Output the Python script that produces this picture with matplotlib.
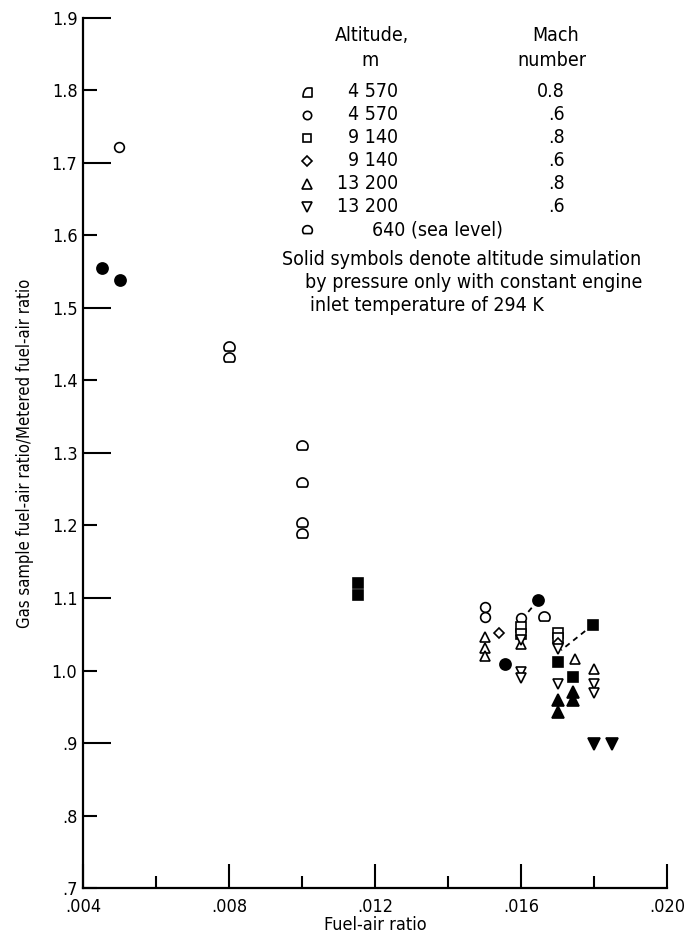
import numpy as np
import matplotlib
matplotlib.use("Agg")
import matplotlib.pyplot as plt
from matplotlib.path import Path
from matplotlib.ticker import FixedLocator, FixedFormatter

plt.rcParams['font.family'] = ['DejaVu Sans']
plt.rcParams['font.stretch'] = 'condensed'

# ---- data: fuel-air ratio (x) vs gas-sample / metered ratio (y) ----
circ_open_x = [0.00499, 0.0150, 0.0150, 0.0160]
circ_open_y = [1.722, 1.087, 1.074, 1.072]
circ_fill_x = [0.00452, 0.00501, 0.01556, 0.01647]
circ_fill_y = [1.555, 1.539, 1.009, 1.097]

sea_open_x = [0.0080, 0.0080, 0.0100, 0.0100, 0.0100, 0.0100, 0.01663]
sea_open_y = [1.446, 1.431, 1.310, 1.259, 1.203, 1.188, 1.074]

sq_open_x = [0.0160, 0.0160, 0.0170, 0.0170]
sq_open_y = [1.060, 1.050, 1.052, 1.045]
sq_fill_x = [0.01153, 0.01153, 0.0170, 0.01743, 0.01797]
sq_fill_y = [1.121, 1.104, 1.012, 0.991, 1.063]

dia_open_x = [0.0154, 0.0170]
dia_open_y = [1.052, 1.038]

tup_open_x = [0.0150, 0.0150, 0.0150, 0.0160, 0.01748, 0.0180]
tup_open_y = [1.046, 1.031, 1.020, 1.036, 1.016, 1.002]
tup_fill_x = [0.0170, 0.0170, 0.01743, 0.01743]
tup_fill_y = [0.959, 0.943, 0.970, 0.959]

tdn_open_x = [0.0160, 0.0160, 0.0160, 0.0170, 0.0170, 0.0180, 0.0180]
tdn_open_y = [1.042, 0.998, 0.990, 1.030, 0.981, 0.981, 0.969]
tdn_fill_x = [0.0180, 0.0185]
tdn_fill_y = [0.899, 0.899]

# dashed links between solid and matching open points
link1_x = [0.01647, 0.0161]
link1_y = [1.097, 1.075]
link2_x = [0.01797, 0.0171]
link2_y = [1.063, 1.028]

# legend table
alt_labels = ["4 570", "4 570", "9 140", "9 140", "13 200", "13 200", "640 (sea level)"]
mach_labels = ["0.8", ".6", ".8", ".6", ".8", ".6", ""]
note_lines = ["Solid symbols denote altitude simulation",
              "by pressure only with constant engine",
              "inlet temperature of 294 K"]

y_major = [0.9, 1.1, 1.3, 1.5, 1.7, 1.9]
y_major_labels = [".9", "1.1", "1.3", "1.5", "1.7", "1.9"]
y_minor = [0.7, 0.8, 1.0, 1.2, 1.4, 1.6, 1.8]
y_minor_labels = [".7", ".8", "1.0", "1.2", "1.4", "1.6", "1.8"]
x_major = [0.004, 0.008, 0.012, 0.016, 0.020]
x_major_labels = [".004", ".008", ".012", ".016", ".020"]
x_minor = [0.006, 0.010, 0.014, 0.018]

# ---- custom marker shapes ----
def quarter_marker():
    # flat bottom, upright right side, rounded sloping left side
    pts = [(-0.5, -0.5), (0.5, -0.5), (0.5, 0.5), (0.05, 0.5)]
    for a in np.linspace(0.15, 1.0, 8) * (np.pi / 2):
        pts.append((0.05 - 0.55 * np.sin(a), -0.5 + 1.0 * np.cos(a)))
    pts.append(pts[0])
    return Path(pts, closed=True)

def sea_marker():
    # round top with a flat base
    pts = [(0.5 * np.cos(a), 0.5 * np.sin(a)) for a in np.linspace(-0.22 * np.pi, 1.22 * np.pi, 32)]
    pts.append(pts[0])
    return Path(pts, closed=True)

QUARTER = quarter_marker()
SEA = sea_marker()

fs_tick = 13
fs_key = 14

fig = plt.figure(figsize=(6.88, 9.40), dpi=100)
ax = fig.add_axes([0.1206, 0.0553, 0.8489, 0.9256])
ax.set_xlim(0.004, 0.020)
ax.set_ylim(0.7, 1.9)

for s in ("top", "right"):
    ax.spines[s].set_visible(False)
for s in ("left", "bottom"):
    ax.spines[s].set_linewidth(1.6)

mew = 1.2
open_kw = dict(ls="none", mfc="white", mec="black", mew=mew, zorder=3)
fill_kw = dict(ls="none", mfc="black", mec="black", mew=mew, zorder=3)

ax.plot(link1_x, link1_y, ls=(0, (3, 2.5)), color="black", lw=1.3, zorder=2)
ax.plot(link2_x, link2_y, ls=(0, (3, 2.5)), color="black", lw=1.3, zorder=2)

ax.plot(circ_open_x, circ_open_y, marker="o", ms=7, **open_kw)
ax.plot(circ_fill_x, circ_fill_y, marker="o", ms=8, **fill_kw)
ax.plot(sea_open_x, sea_open_y, marker=SEA, ms=8, **open_kw)
ax.plot(sq_open_x, sq_open_y, marker="s", ms=6.5, **open_kw)
ax.plot(sq_fill_x, sq_fill_y, marker="s", ms=7, **fill_kw)
ax.plot(dia_open_x, dia_open_y, marker="D", ms=5.5, **open_kw)
ax.plot(tup_open_x, tup_open_y, marker="^", ms=7.5, **open_kw)
ax.plot(tup_fill_x, tup_fill_y, marker="^", ms=8, **fill_kw)
ax.plot(tdn_open_x, tdn_open_y, marker="v", ms=7.5, **open_kw)
ax.plot(tdn_fill_x, tdn_fill_y, marker="v", ms=8, **fill_kw)

# ---- ticks ----
ax.yaxis.set_major_locator(FixedLocator(y_major))
ax.yaxis.set_major_formatter(FixedFormatter(y_major_labels))
ax.yaxis.set_minor_locator(FixedLocator(y_minor))
ax.yaxis.set_minor_formatter(FixedFormatter(y_minor_labels))
ax.xaxis.set_major_locator(FixedLocator(x_major))
ax.xaxis.set_major_formatter(FixedFormatter(x_major_labels))
ax.xaxis.set_minor_locator(FixedLocator(x_minor))
ax.xaxis.set_minor_formatter(FixedFormatter([""] * len(x_minor)))

ax.tick_params(axis="y", which="major", direction="in", length=20, width=1.5, labelsize=fs_tick, pad=4)
ax.tick_params(axis="y", which="minor", direction="in", length=10, width=1.5, labelsize=fs_tick, pad=4)
ax.tick_params(axis="x", which="major", direction="in", length=17, width=1.5, labelsize=fs_tick, pad=7)
ax.tick_params(axis="x", which="minor", direction="in", length=9, width=1.5, pad=7)

ax.set_xlabel("Fuel-air ratio", fontsize=fs_tick, labelpad=0)
ax.set_ylabel("Gas sample fuel-air ratio/Metered fuel-air ratio", fontsize=12, labelpad=13)

# ---- key ----
def ax_xy(px, py):
    return ((px - 83) / 584.0, (888 - py) / 870.0)

ax.text(*ax_xy(372, 36), "Altitude,", ha="center", va="center", fontsize=fs_key, transform=ax.transAxes)
ax.text(*ax_xy(370, 61), "m", ha="center", va="center", fontsize=fs_key, transform=ax.transAxes)
ax.text(*ax_xy(556, 36), "Mach", ha="center", va="center", fontsize=fs_key, transform=ax.transAxes)
ax.text(*ax_xy(552, 61), "number", ha="center", va="center", fontsize=fs_key, transform=ax.transAxes)

key_markers = [QUARTER, "o", "s", "D", "^", "v", SEA]
key_sizes = [6.5, 6, 6, 5, 6.5, 6.5, 7]
for i, (mk, lab, mach) in enumerate(zip(key_markers, alt_labels, mach_labels)):
    py = 92 + 23.0 * i
    xm, ym = ax_xy(307, py)
    ax.plot([xm], [ym], marker=mk, ms=key_sizes[i], mfc="white", mec="black", mew=1.2,
            ls="none", transform=ax.transAxes, clip_on=False)
    if mach:
        ax.text(*ax_xy(398, py), lab, ha="right", va="center", fontsize=fs_key, transform=ax.transAxes)
        ax.text(*ax_xy(565, py), mach, ha="right", va="center", fontsize=fs_key, transform=ax.transAxes)
    else:
        ax.text(*ax_xy(372, py), lab, ha="left", va="center", fontsize=fs_key, transform=ax.transAxes)

for line, px, py in zip(note_lines, [282, 305, 310], [260, 283, 306]):
    ax.text(*ax_xy(px, py), line, ha="left", va="center", fontsize=fs_key, transform=ax.transAxes)

fig.savefig("out.png", dpi=100, facecolor="white")
